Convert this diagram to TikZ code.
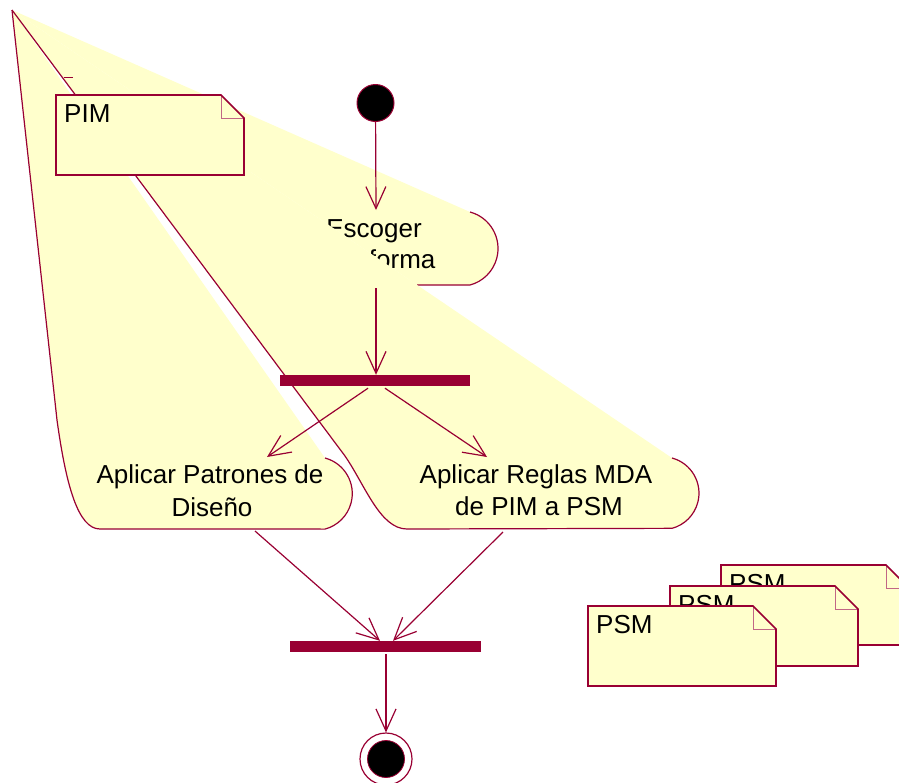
\documentclass[tikz,border=0pt]{standalone}
\usepackage{fontspec}
\setmainfont{Liberation Sans}
\usetikzlibrary{arrows.meta}
\definecolor{roseline}{HTML}{990033}
\definecolor{rosefill}{HTML}{FFFFCC}

% UML note with folded corner: x, y (top left), text, node name
\newcommand{\umlnote}[4]{%
  \fill[rosefill] (#1,#2) -- (#1+165,#2) -- (#1+188,#2+23) -- (#1+188,#2+80) -- (#1,#2+80) -- cycle;
  \draw[fold] (#1+165,#2) -- (#1+165,#2+23) -- (#1+188,#2+23);
  \draw[noteedge] (#1,#2) -- (#1+165,#2) -- (#1+188,#2+23) -- (#1+188,#2+80) -- (#1,#2+80) -- cycle;
  \node[notelbl] (#4) at (#1+8,#2+27) {#3};
}

\begin{document}
\begin{tikzpicture}[x=1pt,y=-1pt,
  edge/.style={draw=roseline,line width=1.2pt},
  noteedge/.style={draw=roseline,line width=1.6pt},
  thinedge/.style={draw=roseline,line width=0.9pt},
  flow/.style={edge,-{Straight Barb[length=22pt,width=20pt]}},
  lbl/.style={inner sep=0pt,anchor=base,font=\fontsize{26}{32}\selectfont},
  notelbl/.style={inner sep=0pt,anchor=base west,font=\fontsize{26}{32}\selectfont},
  bar/.style={fill=roseline,draw=none,inner sep=0pt},
  fold/.style={draw=roseline!60,line width=1pt}]
\useasboundingbox (0,0) rectangle (899,782);
\clip (0,0) rectangle (899,782);

\coordinate (apex) at (12,10);

% activity: Aplicar Patrones de Diseño
\fill[rosefill] (apex) -- (325,458) arc[start angle=75,end angle=-75,radius=36.8pt]
  -- (100,529) .. controls (78,529) and (66,485) .. (57,420) -- cycle;
\draw[edge] (325,458) arc[start angle=75,end angle=-75,radius=36.8pt]
  -- (100,529) .. controls (78,529) and (66,485) .. (57,420) -- (apex);

% activity: Escoger plataforma
\fill[rosefill] (apex) -- (470,212) arc[start angle=75,end angle=-75,radius=37.8pt]
  -- (417,285) -- cycle;
\draw[edge] (470,212) arc[start angle=75,end angle=-75,radius=37.8pt] -- (417,285);
\node[lbl] (esc1) at (374,237) {Escoger};
\node[lbl] (esc2) at (374,268) {plataforma};

% object flow from the PIM note
\coordinate (pimout) at (232,176);
\coordinate (escin) at (297,208);
\draw[thinedge] (pimout) -- (escin);

% activity: Aplicar Reglas MDA de PIM a PSM
\fill[rosefill] (apex) -- (672,458) arc[start angle=75,end angle=-75,radius=36.4pt]
  -- (407,529) .. controls (380,529) and (365,485) .. (345,456) -- cycle;
\draw[edge] (672,458) arc[start angle=75,end angle=-75,radius=36.4pt]
  -- (407,529) .. controls (380,529) and (365,485) .. (345,456) -- (apex);

\node[lbl] (pat1) at (210,483) {Aplicar Patrones de};
\node[lbl] (pat2) at (212,516) {Diseño};
\node[lbl] (reg1) at (536,483) {Aplicar Reglas MDA};
\node[lbl] (reg2) at (539,515) {de PIM a PSM};

% initial state and first transition
\node[circle,fill=black,draw=roseline,line width=1pt,minimum size=37pt,inner sep=0pt] (init) at (375.5,103) {};
\coordinate (escTop) at (376,210);
\coordinate (escBot) at (376,288);
\draw[flow] (init) -- (escTop);

% fork
\node[bar,minimum width=190pt,minimum height=11pt] (fork) at (375,380.5) {};
\draw[flow] (escBot) -- (escBot |- fork.north);
\coordinate (patIn) at (267,457);
\coordinate (regIn) at (487,457);
\draw[flow] ([xshift=-7pt,yshift=-2pt]fork.south) -- (patIn);
\draw[flow] ([xshift=10pt,yshift=-2pt]fork.south) -- (regIn);

% join
\node[bar,minimum width=191pt,minimum height=11pt] (join) at (385.5,646.5) {};
\coordinate (patOut) at (255,531);
\coordinate (regOut) at (503,532);
\draw[flow] (patOut) -- ([xshift=-5.5pt]join.north);
\draw[flow] (regOut) -- ([xshift=7.5pt]join.north);

% final state
\node[circle,draw=roseline,line width=1.2pt,minimum size=52pt,inner sep=0pt] (final) at (386,759) {};
\node[circle,fill=black,draw=roseline,line width=0.8pt,minimum size=37pt,inner sep=0pt] (finalDot) at (final) {};
\draw[flow] ([yshift=-2pt]join.south -| final) -- (final.north);

% small tick on the diagonal
\coordinate (tickA) at (64,77);
\coordinate (tickB) at (73,77);
\draw[thinedge] (tickA) -- (tickB);

% notes
\umlnote{56}{95}{PIM}{pim}
\umlnote{721}{565}{PSM}{psmC}
\umlnote{670}{586}{PSM}{psmB}
\umlnote{588}{606}{PSM}{psmA}
\end{tikzpicture}
\end{document}
